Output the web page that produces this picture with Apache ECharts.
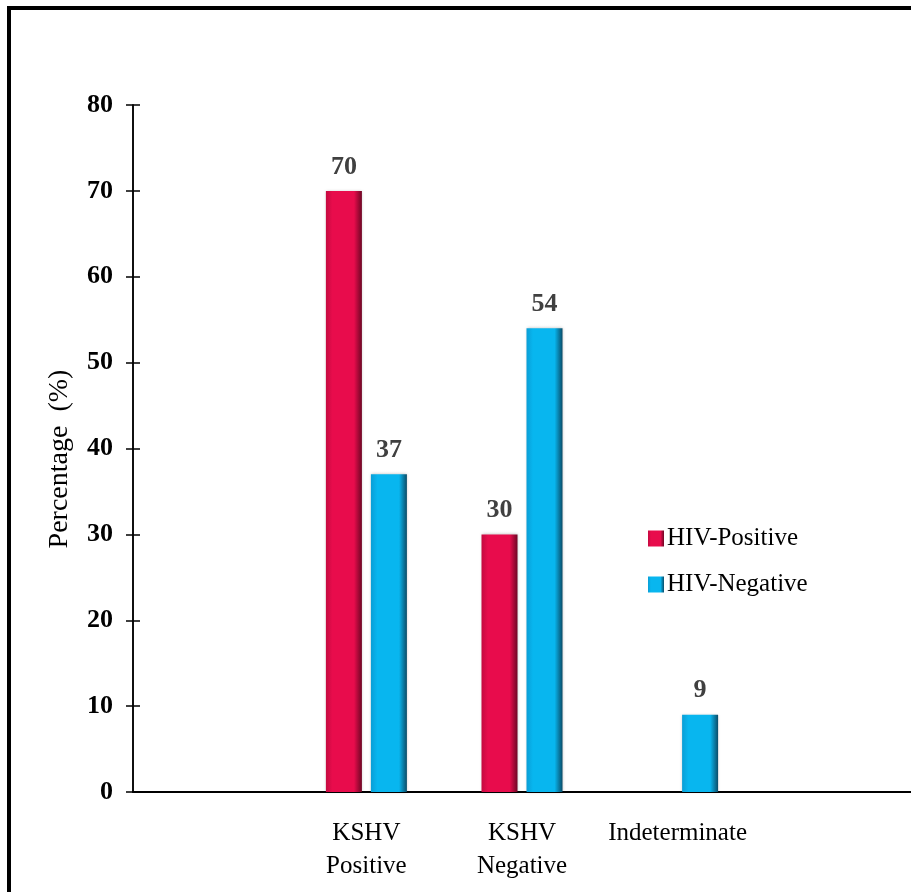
<!DOCTYPE html>
<html>
<head>
<meta charset="utf-8">
<title>KSHV serostatus by HIV status</title>
<script src="https://cdn.jsdelivr.net/npm/echarts@6/dist/echarts.min.js"></script>
<style>
  html, body { margin: 0; padding: 0; background: #ffffff; }
  #chart { width: 911px; height: 892px; }
</style>
</head>
<body>
<div id="chart"></div>
<script>
// Category slots (outer slots left blank to leave room either side)
const categories = ['', 'KSHV\nPositive', 'KSHV\nNegative', 'Indeterminate', ''];
// Percentages per HIV group
const hivPositive = ['-', 70, 30, '-', '-'];
const hivNegative = ['-', 37, 54, 9, '-'];
const seriesNames = ['HIV-Positive', 'HIV-Negative'];
const yTicks = { min: 0, max: 80, interval: 10 };

const SERIF = 'Liberation Serif';

// Horizontal shading that gives the bars a rounded, bevelled look
function barShade(edgeL, mid, edgeR) {
  return new echarts.graphic.LinearGradient(0, 0, 1, 0, [
    { offset: 0, color: edgeL },
    { offset: 0.18, color: mid },
    { offset: 0.78, color: mid },
    { offset: 1, color: edgeR }
  ]);
}
const redFill = barShade('#c40a40', '#e80c4c', '#6e0624');
const blueFill = barShade('#0a9ed6', '#08b6ef', '#0a4c68');

const labelStyle = {
  show: true,
  position: 'top',
  distance: 11,
  fontFamily: SERIF,
  fontWeight: 'bold',
  fontSize: 26,
  color: '#404040'
};

const chart = echarts.init(document.getElementById('chart'));
chart.setOption({
  animation: false,
  backgroundColor: '#ffffff',
  textStyle: { fontFamily: SERIF },
  grid: { left: 133, top: 105, bottom: 100, width: 780, containLabel: false },
  legend: {
    orient: 'vertical',
    left: 643,
    top: 521,
    itemWidth: 16,
    itemHeight: 16,
    itemGap: 21,
    icon: 'rect',
    textStyle: { fontFamily: SERIF, fontSize: 25, color: '#000000', padding: [0, 0, 0, -2] },
    data: seriesNames
  },
  xAxis: {
    type: 'category',
    data: categories,
    axisLine: { lineStyle: { color: '#000000', width: 2 } },
    axisTick: { show: false },
    axisLabel: {
      interval: 0,
      margin: 25,
      fontFamily: SERIF,
      fontSize: 25,
      lineHeight: 33,
      color: '#000000'
    }
  },
  yAxis: [
    {
      type: 'value',
      min: yTicks.min,
      max: yTicks.max,
      interval: yTicks.interval,
      name: 'Percentage  (%)',
      nameLocation: 'middle',
      nameGap: 59,
      nameTextStyle: { fontFamily: SERIF, fontSize: 28, color: '#000000', padding: [0, 21, 0, 0] },
      axisLine: { show: true, lineStyle: { color: '#000000', width: 1.5 } },
      axisTick: { show: true, length: 7, lineStyle: { color: '#000000', width: 1.5 } },
      axisLabel: { margin: 20, fontFamily: SERIF, fontWeight: 'bold', fontSize: 26, color: '#000000' },
      splitLine: { show: false }
    },
    {
      // inner half of the crossing tick marks
      type: 'value',
      position: 'left',
      min: yTicks.min,
      max: yTicks.max,
      interval: yTicks.interval,
      axisLine: { show: true, lineStyle: { color: '#000000', width: 1.5 } },
      axisTick: { show: true, inside: true, length: 7, lineStyle: { color: '#000000', width: 1.5 } },
      axisLabel: { show: false },
      splitLine: { show: false }
    }
  ],
  series: [
    {
      name: seriesNames[0],
      type: 'bar',
      data: hivPositive,
      barWidth: 36,
      barGap: '25%',
      itemStyle: { color: redFill, shadowColor: 'rgba(0,0,0,0.25)', shadowBlur: 3 },
      label: labelStyle
    },
    {
      name: seriesNames[1],
      type: 'bar',
      data: hivNegative,
      barWidth: 36,
      barGap: '25%',
      itemStyle: { color: blueFill, shadowColor: 'rgba(0,0,0,0.25)', shadowBlur: 3 },
      label: labelStyle
    }
  ],
  graphic: [
    {
      type: 'polyline',
      shape: { points: [[9, 892], [9, 8], [911, 8]] },
      style: { stroke: '#000000', lineWidth: 4, fill: null },
      z: 100
    }
  ]
});
</script>
</body>
</html>
